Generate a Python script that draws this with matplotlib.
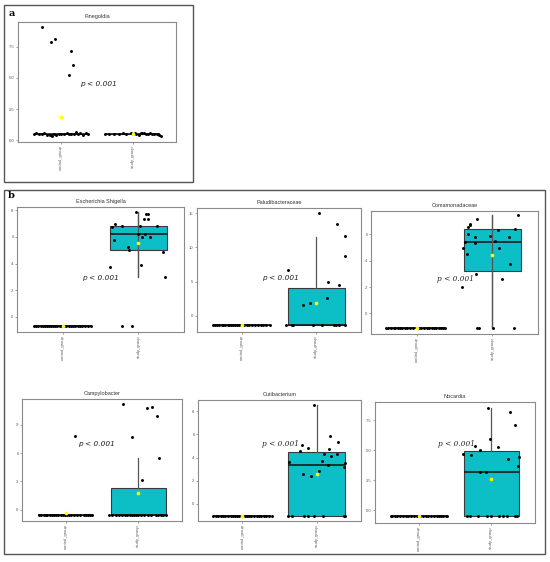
import numpy as np
import matplotlib
matplotlib.use('Agg')
import matplotlib.pyplot as plt
from matplotlib.patches import Rectangle

W, H = 550, 562
groups = ["control_group", "study_group"]

# ---------------- data ----------------
# Panel a: Finegoldia
fine_ctrl_off = [-0.38,-0.35,-0.31,-0.27,-0.24,-0.19,-0.16,-0.14,-0.12,-0.10,-0.07,-0.03,0.0,0.04,0.08,0.11,0.14,0.18,0.21,0.24,0.27,0.31,0.35,0.38,
                 -0.27,-0.14,-0.09,0.14,0.17,0.115]
fine_ctrl_val = [0.52,0.55,0.5,0.49,0.56,0.44,0.40,0.46,0.38,0.50,0.42,0.53,0.48,0.50,0.55,0.47,0.50,0.52,0.65,0.49,0.55,0.42,0.60,0.50,
                 9.03,7.85,8.12,7.13,6.0,5.25]
fine_study_off = [-0.39,-0.33,-0.26,-0.20,-0.14,-0.09,-0.03,0.0,0.03,0.05,0.08,0.11,0.13,0.16,0.18,0.21,0.24,0.27,0.30,0.33,0.36,0.39]
fine_study_val = [0.5,0.5,0.52,0.5,0.55,0.48,0.55,0.5,0.60,0.52,0.45,0.58,0.62,0.55,0.48,0.52,0.60,0.50,0.48,0.52,0.45,0.32]
fine_box_ctrl = [0.5, 0.5, 0.5, 0.5, 0.5]      # q1, median, q3, whisker low, whisker high
fine_box_study = [0.5, 0.5, 0.5, 0.5, 0.5]
fine_means = [1.88, 0.54]

# Panel b1: Escherichia Shigella
esch_ctrl_off = [-0.38,-0.35,-0.32,-0.29,-0.26,-0.23,-0.21,-0.18,-0.15,-0.12,-0.10,-0.07,-0.04,-0.01,0.02,0.05,0.08,0.11,0.14,0.17,0.20,0.23,0.26,0.30,0.34,0.37]
esch_ctrl_val = [-0.68,-0.68,-0.68,-0.68,-0.68,-0.68,-0.68,-0.68,-0.68,-0.68,-0.68,-0.68,-0.68,-0.68,-0.68,-0.68,-0.68,-0.68,-0.68,-0.68,-0.68,-0.68,-0.68,-0.68,-0.68,-0.68]
esch_study_off = [-0.035,0.096,0.123,0.075,0.12,-0.307,-0.35,-0.22,0.02,0.25,-0.01,0.08,0.05,0.15,-0.32,-0.14,-0.13,0.32,-0.37,0.03,0.35,-0.22,-0.08]
esch_study_val = [7.85,7.75,7.75,7.37,7.37,6.99,6.74,6.79,6.79,6.84,6.24,6.21,5.99,5.99,5.79,5.28,5.03,4.9,3.77,3.9,3.02,-0.68,-0.68]
esch_box_ctrl = [-0.68, -0.68, -0.68, -0.68, -0.68]
esch_box_study = [5.03, 6.24, 6.79, 3.02, 7.87]
esch_means = [-0.68, 5.58]

# Panel b2: Paludibacteraceae
palu_ctrl_off = [-0.385,-0.36,-0.33,-0.30,-0.27,-0.25,-0.22,-0.19,-0.17,-0.14,-0.12,-0.09,-0.06,-0.03,0.0,0.03,0.07,0.10,0.14,0.18,0.22,0.26,0.29,0.33,0.376]
palu_ctrl_val = [-1.42,-1.42,-1.42,-1.42,-1.42,-1.42,-1.42,-1.42,-1.42,-1.42,-1.42,-1.42,-1.42,-1.42,-1.42,-1.42,-1.42,-1.42,-1.42,-1.42,-1.42,-1.42,-1.42,-1.42,-1.42]
palu_study_off = [0.04,0.28,0.39,0.39,-0.385,0.16,0.30,0.14,-0.09,-0.18,-0.40,-0.33,-0.315,-0.04,0.08,0.24,0.27,0.30,0.38]
palu_study_val = [15.05,13.43,11.63,8.7,6.64,4.89,4.54,2.64,1.86,1.51,-1.42,-1.42,-1.42,-1.42,-1.42,-1.42,-1.42,-1.42,-1.42]
palu_box_ctrl = [-1.42, -1.42, -1.42, -1.42, -1.42]
palu_box_study = [-1.42, -1.42, 4.0, -1.42, 11.6]
palu_means = [-1.42, 1.86]

# Panel b3: Comamonadaceae
coma_ctrl_off = [-0.40,-0.37,-0.33,-0.30,-0.28,-0.25,-0.22,-0.19,-0.15,-0.12,-0.09,-0.05,0.0,0.03,0.06,0.10,0.14,0.17,0.20,0.23,0.26,0.29,0.32,0.35,0.37]
coma_ctrl_val = [-1.13,-1.13,-1.13,-1.13,-1.13,-1.13,-1.13,-1.13,-1.13,-1.13,-1.13,-1.13,-1.13,-1.13,-1.13,-1.13,-1.13,-1.13,-1.13,-1.13,-1.13,-1.13,-1.13,-1.13,-1.13]
coma_study_off = [0.34,-0.20,-0.29,-0.30,-0.32,0.30,0.07,-0.32,-0.03,-0.23,0.22,0.03,-0.36,-0.23,-0.39,0.09,-0.33,0.23,-0.22,0.12,-0.40,-0.20,-0.18,0.01,0.28]
coma_study_val = [7.44,7.18,6.81,6.68,6.55,6.43,6.35,6.0,5.85,5.8,5.8,5.5,5.39,5.32,4.92,4.92,4.51,3.71,2.97,2.6,2.02,-1.13,-1.13,-1.13,-1.13]
coma_box_ctrl = [-1.13, -1.13, -1.13, -1.13, -1.13]
coma_box_study = [3.2, 5.42, 6.43, -1.13, 7.44]
coma_means = [-1.13, 4.39]

# Panel b4: Campylobacter
campy_ctrl_off = [-0.37,-0.34,-0.30,-0.27,-0.25,-0.22,-0.19,-0.16,-0.13,-0.10,-0.07,-0.04,-0.01,0.02,0.05,0.08,0.11,0.15,0.20,0.25,0.28,0.31,0.34,0.36,0.13]
campy_ctrl_val = [-0.6,-0.6,-0.6,-0.6,-0.6,-0.6,-0.6,-0.6,-0.6,-0.6,-0.6,-0.6,-0.6,-0.6,-0.6,-0.6,-0.6,-0.6,-0.6,-0.6,-0.6,-0.6,-0.6,-0.6,7.79]
campy_study_off = [-0.205,0.19,0.116,0.25,-0.09,0.28,0.05,
                   -0.40,-0.36,-0.31,-0.26,-0.22,-0.18,-0.15,-0.12,-0.09,-0.06,-0.03,0.0,0.04,0.08,0.13,0.18,0.24,0.27,0.31,0.34,0.38]
campy_study_val = [11.2,10.85,10.78,9.89,7.69,5.48,3.13,
                   -0.6,-0.6,-0.6,-0.6,-0.6,-0.6,-0.6,-0.6,-0.6,-0.6,-0.6,-0.6,-0.6,-0.6,-0.6,-0.6,-0.6,-0.6,-0.6,-0.6,-0.6]
campy_box_ctrl = [-0.6, -0.6, -0.6, -0.6, -0.6]
campy_box_study = [-0.6, -0.6, 2.24, -0.6, 5.48]
campy_means = [-0.36, 1.81]

# Panel b5: Cutibacterium
cuti_ctrl_off = [-0.40,-0.36,-0.33,-0.29,-0.26,-0.23,-0.19,-0.16,-0.13,-0.10,-0.07,-0.04,0.0,0.03,0.06,0.09,0.12,0.15,0.19,0.22,0.25,0.29,0.32,0.36,0.40]
cuti_ctrl_val = [-1.04,-1.04,-1.04,-1.04,-1.04,-1.04,-1.04,-1.04,-1.04,-1.04,-1.04,-1.04,-1.04,-1.04,-1.04,-1.04,-1.04,-1.04,-1.04,-1.04,-1.04,-1.04,-1.04,-1.04,-1.04]
cuti_study_off = [-0.036,0.176,0.29,-0.19,-0.11,-0.23,0.17,0.10,0.28,0.19,0.07,-0.37,0.15,0.38,0.37,0.036,-0.18,-0.08,
                  -0.39,-0.33,-0.17,-0.11,-0.04,0.09,0.37,0.39]
cuti_study_val = [8.55,5.88,5.33,5.1,4.84,4.58,4.72,4.29,4.29,4.12,3.71,3.62,3.33,3.48,3.19,2.84,2.61,2.38,
                  -1.04,-1.04,-1.04,-1.04,-1.04,-1.04,-1.04,-1.04]
cuti_box_ctrl = [-1.04, -1.04, -1.04, -1.04, -1.04]
cuti_box_study = [-1.04, 3.39, 4.49, -1.04, 8.55]
cuti_means = [-1.04, 2.61]

# Panel b6: Nocardia
noca_ctrl_off = [-0.38,-0.36,-0.33,-0.30,-0.26,-0.22,-0.18,-0.14,-0.10,-0.06,-0.02,0.02,0.06,0.10,0.13,0.17,0.21,0.25,0.28,0.31,0.34,0.37,0.39]
noca_ctrl_val = [-0.53,-0.53,-0.53,-0.53,-0.53,-0.53,-0.53,-0.53,-0.53,-0.53,-0.53,-0.53,-0.53,-0.53,-0.53,-0.53,-0.53,-0.53,-0.53,-0.53,-0.53,-0.53,-0.53]
noca_study_off = [-0.05,0.25,0.32,-0.014,-0.23,0.09,-0.16,-0.39,-0.28,0.385,0.23,0.36,-0.16,-0.07,
                  -0.33,-0.29,-0.19,-0.055,0.0,0.11,0.165,0.22,0.32,0.35]
noca_study_val = [8.55,8.22,7.14,5.92,5.34,5.26,5.01,4.68,4.57,4.46,4.29,3.71,3.18,3.18,
                  -0.53,-0.53,-0.53,-0.53,-0.53,-0.53,-0.53,-0.53,-0.53,-0.53]
noca_box_ctrl = [-0.53, -0.53, -0.53, -0.53, -0.53]
noca_box_study = [-0.53, 3.18, 4.95, -0.53, 8.55]
noca_means = [-0.53, 2.57]

p_label = "p < 0.001"

# ---------------- layout ----------------
panels = [
    dict(title="Finegoldia", rect=(18, 22, 176, 142), ylim=(-0.13, 9.46),
         yticks=[0, 2.5, 5, 7.5], yfmt="{:.1f}", ptxt=(1.26, 4.47), serif=False, through=False,
         data=(fine_ctrl_off, fine_ctrl_val, fine_study_off, fine_study_val, fine_box_ctrl, fine_box_study, fine_means)),
    dict(title="Escherichia Shigella", rect=(17, 207, 184, 332), ylim=(-1.13, 8.25),
         yticks=[0, 2, 4, 6, 8], yfmt="{:.0f}", ptxt=(1.25, 2.89), serif=False, through=True,
         data=(esch_ctrl_off, esch_ctrl_val, esch_study_off, esch_study_val, esch_box_ctrl, esch_box_study, esch_means)),
    dict(title="Paludibacteraceae", rect=(197, 208, 361, 332), ylim=(-2.39, 15.78),
         yticks=[0, 5, 10, 15], yfmt="{:.0f}", ptxt=(1.27, 5.47), serif=False, through=False,
         data=(palu_ctrl_off, palu_ctrl_val, palu_study_off, palu_study_val, palu_box_ctrl, palu_box_study, palu_means)),
    dict(title="Comamonadaceae", rect=(371, 211, 538, 334), ylim=(-1.56, 7.76),
         yticks=[0, 2, 4, 6], yfmt="{:.0f}", ptxt=(1.27, 2.62), serif=True, through=True,
         data=(coma_ctrl_off, coma_ctrl_val, coma_study_off, coma_study_val, coma_box_ctrl, coma_box_study, coma_means)),
    dict(title="Campylobacter", rect=(22, 399, 182, 521), ylim=(-1.21, 11.74),
         yticks=[0, 3, 6, 9], yfmt="{:.0f}", ptxt=(1.17, 6.97), serif=False, through=False,
         data=(campy_ctrl_off, campy_ctrl_val, campy_study_off, campy_study_val, campy_box_ctrl, campy_box_study, campy_means)),
    dict(title="Cutibacterium", rect=(198, 400, 361, 521), ylim=(-1.51, 8.99),
         yticks=[0, 2, 4, 6, 8], yfmt="{:.0f}", ptxt=(1.26, 5.16), serif=True, through=False,
         data=(cuti_ctrl_off, cuti_ctrl_val, cuti_study_off, cuti_study_val, cuti_box_ctrl, cuti_box_study, cuti_means)),
    dict(title="Nocardia", rect=(375, 402, 535, 523), ylim=(-1.08, 9.02),
         yticks=[0, 2.5, 5, 7.5], yfmt="{:.1f}", ptxt=(1.27, 5.48), serif=True, through=False,
         data=(noca_ctrl_off, noca_ctrl_val, noca_study_off, noca_study_val, noca_box_ctrl, noca_box_study, noca_means)),
]

TEAL = "#0CBFC7"
fig = plt.figure(figsize=(W / 100, H / 100), dpi=100)
fig.patch.set_facecolor("white")

def frac(x0, y0, x1, y1):
    return [x0 / W, 1 - y1 / H, (x1 - x0) / W, (y1 - y0) / H]

for p in panels:
    ax = fig.add_axes(frac(*p["rect"]))
    c_off, c_val, s_off, s_val, b_c, b_s, means = p["data"]
    stats = []
    for b in (b_c, b_s):
        stats.append(dict(q1=b[0], med=b[1], q3=b[2], whislo=b[3], whishi=b[4], fliers=[]))
    ax.bxp(stats, positions=[1, 2], widths=0.76, patch_artist=True, showcaps=False,
           showfliers=False,
           boxprops=dict(facecolor=TEAL, edgecolor="#3a3a3a", linewidth=0.8),
           medianprops=dict(color="#1a1a1a", linewidth=1.2),
           whiskerprops=dict(color="#555555", linewidth=0.9))
    if p["through"]:
        ax.vlines(2, b_s[3], b_s[4], color="#555555", linewidth=0.9, zorder=2.5)
    ax.scatter(1 + np.array(c_off), c_val, s=4.5, c="black", linewidths=0, zorder=3)
    ax.scatter(2 + np.array(s_off), s_val, s=4.5, c="black", linewidths=0, zorder=3)
    ax.scatter([1, 2], means, s=7, c="#FFFF00", linewidths=0, zorder=4)

    ax.set_xlim(0.4, 2.6)
    ax.set_ylim(*p["ylim"])
    ax.set_xticks([1, 2])
    ax.set_xticklabels(groups, rotation=90, family="Liberation Sans")
    ax.set_yticks(p["yticks"])
    ax.set_yticklabels([p["yfmt"].format(v) for v in p["yticks"]], family="Liberation Sans")
    ax.tick_params(length=1.5, width=0.5, colors="#7a7a7a", labelsize=3, labelcolor="#555555", pad=1)
    for s in ax.spines.values():
        s.set_color("#8a8a8a")
        s.set_linewidth(0.8)
    ax.set_title(p["title"], fontsize=4, family="Liberation Sans", color="#333333", pad=3)
    fam = "DejaVu Serif" if p["serif"] else "DejaVu Sans"
    ax.text(p["ptxt"][0], p["ptxt"][1], p_label, style="italic", family=fam,
            fontsize=5.3, color="#222222", ha="left", va="center", zorder=5)

# outer frames and panel labels
fig.add_artist(Rectangle((4 / W, 1 - 182 / H), (193 - 4) / W, (182 - 5) / H,
                         transform=fig.transFigure, fill=False, edgecolor="#555555", linewidth=1.0))
fig.add_artist(Rectangle((4 / W, 1 - 554 / H), (545 - 4) / W, (554 - 190) / H,
                         transform=fig.transFigure, fill=False, edgecolor="#555555", linewidth=1.0))
fig.text(9 / W, 1 - 14 / H, "a", fontsize=7, fontweight="bold", family="DejaVu Serif", va="center")
fig.text(8 / W, 1 - 196 / H, "b", fontsize=7, fontweight="bold", family="DejaVu Serif", va="center")

fig.savefig("out.png", dpi=100, facecolor="white")
